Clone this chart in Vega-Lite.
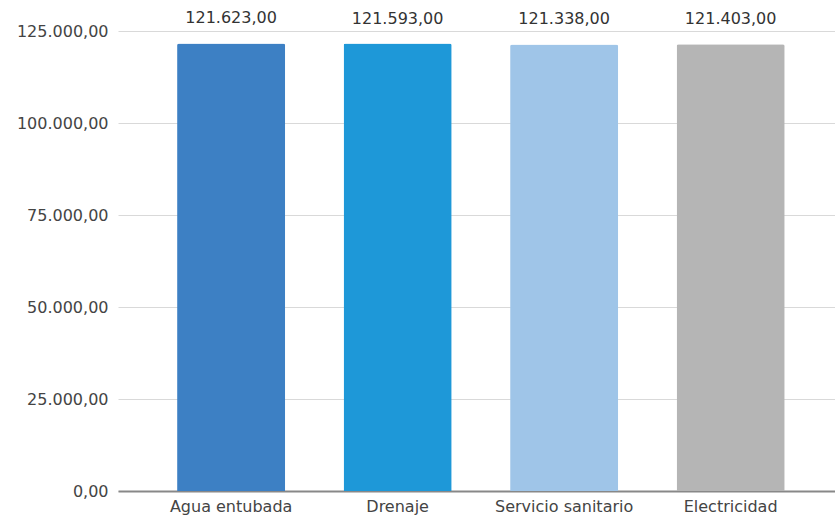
{
  "$schema": "https://vega.github.io/schema/vega-lite/v6.json",
  "autosize": {"type": "none"},
  "padding": {"left": 118, "top": 31, "right": 0, "bottom": 29},
  "width": 717,
  "height": 460,
  "config": {
    "locale": {"number": {"decimal": ",", "thousands": ".", "grouping": [3], "currency": ["", ""]}},
    "view": {"stroke": null},
    "font": "DejaVu Sans"
  },
  "data": {
    "values": [
      {"categoria": "Agua entubada", "valor": 121623},
      {"categoria": "Drenaje", "valor": 121593},
      {"categoria": "Servicio sanitario", "valor": 121338},
      {"categoria": "Electricidad", "valor": 121403}
    ]
  },
  "encoding": {
    "x": {
      "field": "categoria", "type": "nominal", "sort": null,
      "scale": {"paddingInner": 0.351, "paddingOuter": 0.3285, "align": 0.54},
      "axis": {"title": null, "labelAngle": 0, "labelFontSize": 16, "labelColor": "#444", "labelPadding": 7, "ticks": false, "domainColor": "#888", "domainWidth": 2, "labelFont": "DejaVu Sans"}
    },
    "y": {
      "field": "valor", "type": "quantitative",
      "scale": {"domain": [0, 125000]},
      "axis": {"title": null, "values": [0, 25000, 50000, 75000, 100000, 125000], "format": ",.2f", "labelFontSize": 16, "labelColor": "#444", "labelPadding": 10, "ticks": false, "domain": false, "gridColor": "#d9d9d9", "labelFont": "DejaVu Sans"}
    }
  },
  "layer": [
    {
      "mark": {"type": "bar", "cornerRadiusTopLeft": 2, "cornerRadiusTopRight": 2},
      "encoding": {
        "color": {
          "field": "categoria", "type": "nominal", "legend": null,
          "scale": {"domain": ["Agua entubada", "Drenaje", "Servicio sanitario", "Electricidad"], "range": ["#3d80c4", "#1e98d8", "#9fc5e8", "#b5b5b5"]}
        }
      }
    },
    {
      "mark": {"type": "text", "baseline": "alphabetic", "dy": -20, "fontSize": 16, "color": "#333", "font": "DejaVu Sans"},
      "encoding": {"text": {"field": "valor", "type": "quantitative", "format": ",.2f"}}
    }
  ]
}
